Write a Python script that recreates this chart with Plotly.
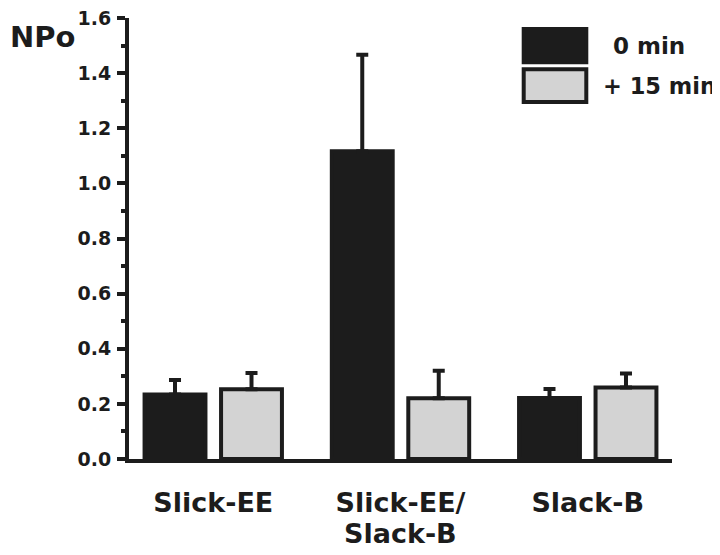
import plotly.graph_objects as go

categories = ["Slick-EE", "Slick-EE/<br>Slack-B", "Slack-B"]
series_names = ["0 min", "+ 15 min"]
npo_0min = [0.234, 1.117, 0.221]
err_0min = [0.053, 0.350, 0.033]
npo_15min = [0.253, 0.220, 0.259]
err_15min = [0.059, 0.100, 0.051]
y_ticks = [0.0, 0.2, 0.4, 0.6, 0.8, 1.0, 1.2, 1.4, 1.6]

DARK = "#1c1c1c"
LIGHT = "#d3d3d3"
FONT = "DejaVu Sans"

# page body adds an 8px offset; target pixel positions are compensated
OFF = 8
W, H = 720, 555
PLOT_L, PLOT_R, PLOT_T, PLOT_B = 129, 672, 18, 459.3
L = PLOT_L - OFF
T = PLOT_T - OFF
R = W - (PLOT_R - OFF)
B = H - (PLOT_B - OFF)
PW, PH = W - L - R, H - T - B


def px(x):
    return (x - OFF - L) / PW


def py(y):
    return (H - B - (y - OFF)) / PH


xs = list(range(len(categories)))
first_lines = [c.split("<br>")[0] for c in categories]
second_idx = [i for i, c in enumerate(categories) if "<br>" in c]
second_lines = [categories[i].split("<br>")[1] for i in second_idx]

fig = go.Figure()
fig.add_trace(go.Bar(
    x=xs, y=npo_0min, name=series_names[0],
    marker=dict(color=DARK, line=dict(color=DARK, width=4)),
    error_y=dict(type="data", symmetric=False, array=err_0min,
                 arrayminus=[0] * len(err_0min), thickness=4, width=6, color=DARK),
    showlegend=False,
))
fig.add_trace(go.Bar(
    x=xs, y=npo_15min, name=series_names[1],
    marker=dict(color=LIGHT, line=dict(color=DARK, width=4)),
    error_y=dict(type="data", symmetric=False, array=err_15min,
                 arrayminus=[0] * len(err_15min), thickness=4, width=6, color=DARK),
    showlegend=False,
))

tickfont_x = dict(family=FONT, size=27, weight="bold", color=DARK)

# second line of wrapped category labels
for i, txt in zip(second_idx, second_lines):
    fig.add_annotation(text=txt, xref="x", yref="paper", x=i, y=py(534),
                       xanchor="center", yanchor="middle", showarrow=False,
                       font=tickfont_x)

# legend drawn as boxes + text
legend_boxes = [(29, 62.3, DARK, DARK), (69.3, 102, LIGHT, DARK)]
for (y0, y1, fill, line) in legend_boxes:
    fig.add_shape(type="rect", xref="paper", yref="paper",
                  x0=px(523.7), x1=px(586.3), y0=py(y1), y1=py(y0),
                  fillcolor=fill, line=dict(color=line, width=4), layer="above")
fig.add_annotation(text=series_names[0], xref="paper", yref="paper",
                   x=px(611), y=py(46.5), xanchor="left", yanchor="middle",
                   showarrow=False,
                   font=dict(family=FONT, size=23, weight="bold", color=DARK))
fig.add_annotation(text=series_names[1], xref="paper", yref="paper",
                   x=px(601), y=py(86), xanchor="left", yanchor="middle",
                   showarrow=False,
                   font=dict(family=FONT, size=22.5, weight="bold", color=DARK))
fig.add_annotation(text="NPo", xref="paper", yref="paper",
                   x=px(8), y=py(37.5), xanchor="left", yanchor="middle",
                   showarrow=False,
                   font=dict(family=FONT, size=29, weight="bold", color=DARK))

fig.update_layout(
    width=W, height=H,
    margin=dict(l=L, r=R, t=T, b=B, autoexpand=False),
    paper_bgcolor="white", plot_bgcolor="white",
    barmode="group", bargap=0.183, bargroupgap=0.204,
    showlegend=False,
    xaxis=dict(
        range=[-0.45, 2.45], tickvals=xs, ticktext=first_lines,
        showline=True, linewidth=4, linecolor=DARK,
        ticks="", showgrid=False, zeroline=False, automargin=False,
        ticklabelstandoff=17, ticklabeloverflow="allow",
        tickfont=tickfont_x,
    ),
    yaxis=dict(
        range=[0, 1.6], tickvals=y_ticks, tickformat=".1f",
        showline=True, linewidth=4, linecolor=DARK,
        ticks="outside", ticklen=8, tickwidth=4, tickcolor=DARK,
        showgrid=False, zeroline=False, ticklabelstandoff=2, automargin=False,
        ticklabeloverflow="allow",
        minor=dict(dtick=0.1, tick0=0, ticks="outside", ticklen=4,
                   tickwidth=4, tickcolor=DARK, showgrid=False),
        tickfont=dict(family=FONT, size=19, weight="bold", color=DARK),
    ),
)

fig.write_html("out.html")
